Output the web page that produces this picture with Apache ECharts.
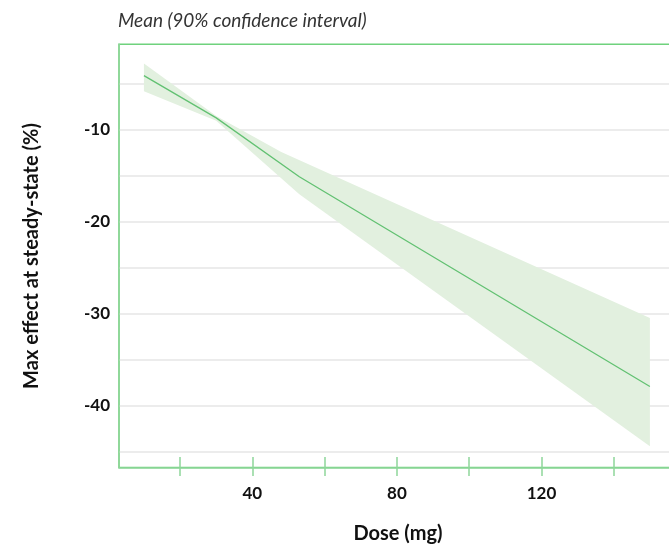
<!DOCTYPE html>
<html><head><meta charset="utf-8">
<script src="https://cdn.jsdelivr.net/npm/echarts@6/dist/echarts.min.js"></script>
<style>html,body{margin:0;padding:0;background:#fff}#c{width:669px;height:549px}</style>
</head><body><div id="c"></div>
<script>
// Data
const doseMean = [10, 30, 53, 150];
const meanValues = [-4.1, -8.7, -15.1, -37.9];
const doseUpper = [10, 30, 48, 150];
const upperValues = [-2.8, -8.5, -12.4, -30.45];
const doseLower = [10, 30, 53, 150];
const lowerValues = [-5.8, -9.0, -17.0, -44.4];
const xTickValues = [20, 40, 60, 80, 100, 120, 140];
const xLabelValues = [40, 80, 120];
const yGridValues = [-45, -40, -35, -30, -25, -20, -15, -10, -5];
const yLabelValues = [-40, -30, -20, -10];
const titleText = 'Mean (90% confidence interval)';
const xName = 'Dose (mg)';
const yName = 'Max effect at steady-state (%)';

const meanData = doseMean.map((d, i) => [d, meanValues[i]]);
const bandData = doseUpper.map((d, i) => [d, upperValues[i]])
  .concat(doseLower.map((d, i) => [d, lowerValues[i]]).reverse());

const FONT = 'Lato, "Noto Sans", sans-serif';
const chart = echarts.init(document.getElementById('c'), null, {renderer: 'canvas'});
chart.setOption({
  animation: false,
  backgroundColor: '#fff',
  grid: {left: 119, top: 44.3, width: 558, height: 423.2, outerBoundsMode: 'none', show: true, borderColor: '#6fd27d', borderWidth: 1.5, backgroundColor: 'transparent', containLabel: false},
  graphic: [
    {type: 'text', x: 118, y: 21, style: {text: titleText, font: 'italic 19px ' + FONT, fill: '#333', verticalAlign: 'middle'}},
    {type: 'text', x: 32, y: 256, rotation: Math.PI / 2, style: {text: yName, font: 'bold 20px ' + FONT, fill: '#111', align: 'center', verticalAlign: 'middle'}}
  ],
  xAxis: [{
    type: 'value', min: 3.1, max: 157.5, position: 'bottom',
    name: xName, nameLocation: 'middle', nameGap: 56,
    nameTextStyle: {fontFamily: FONT, fontWeight: 'bold', fontSize: 20, color: '#111'},
    axisLine: {show: true, lineStyle: {color: '#8fd69a', width: 1.5}},
    axisTick: {show: true, inside: false, length: 8.5, customValues: xTickValues, lineStyle: {color: '#8fd69a', width: 1.5}},
    axisLabel: {customValues: xLabelValues, margin: 18, fontFamily: FONT, fontWeight: 'bold', fontSize: 17, color: '#111'},
    splitLine: {show: false}
  }, {
    type: 'value', min: 3.1, max: 157.5, position: 'bottom', gridIndex: 0,
    axisLine: {show: false},
    axisTick: {show: true, inside: true, length: 10.5, customValues: xTickValues, lineStyle: {color: '#8fd69a', width: 1.5}},
    axisLabel: {show: false},
    splitLine: {show: false}
  }],
  yAxis: {
    type: 'value', min: -46.7, max: -0.7,
    axisLine: {show: true, lineStyle: {color: '#8fd69a', width: 1.5}},
    axisTick: {show: false, customValues: yGridValues},
    axisLabel: {customValues: yLabelValues, margin: 9, fontFamily: FONT, fontWeight: 'bold', fontSize: 17, color: '#111'},
    splitLine: {show: true, lineStyle: {color: '#e6e6e6', width: 1.5}}
  },
  series: [{
    type: 'custom', xAxisIndex: 0, yAxisIndex: 0, silent: true, z: 2,
    data: bandData,
    renderItem: function (params, api) {
      if (params.dataIndex !== 0) return null;
      const pts = bandData.map(p => api.coord(p));
      return {type: 'polygon', shape: {points: pts}, style: {fill: '#e2f0df'}};
    }
  }, {
    type: 'line', xAxisIndex: 0, yAxisIndex: 0, z: 3,
    data: meanData, showSymbol: false, symbol: 'none',
    lineStyle: {color: '#62c172', width: 1.3}
  }]
});
</script>
</body></html>
